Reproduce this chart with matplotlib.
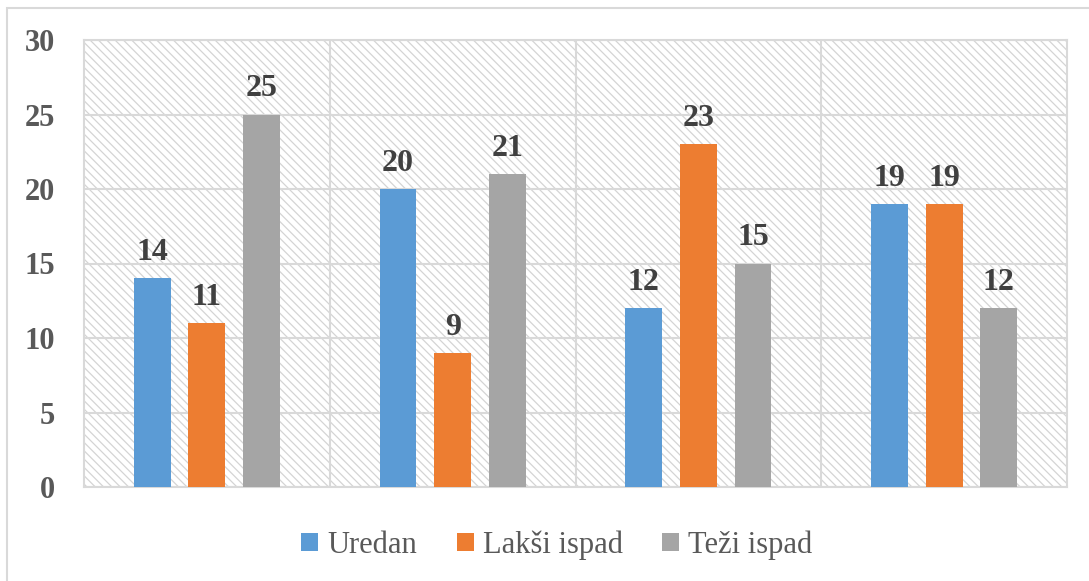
import numpy as np
import matplotlib.pyplot as plt
from matplotlib.patches import Rectangle

# data
categories = ["", "", "", ""]
series_names = ["Uredan", "Lakši ispad", "Teži ispad"]
uredan = [14, 20, 12, 19]
laksi = [11, 9, 23, 19]
tezi = [25, 21, 15, 12]
y_ticks = [0, 5, 10, 15, 20, 25, 30]

colors = ["#5b9bd5", "#ed7d31", "#a5a5a5"]
grid_col = "#d9d9d9"


def main():
    plt.rcParams['font.family'] = ['Liberation Serif', 'DejaVu Serif']
    plt.rcParams['hatch.linewidth'] = 0.9
    plt.rcParams['hatch.color'] = "#d4d4d4"

    fig = plt.figure(figsize=(10.89, 5.81), dpi=100)
    # outer chart frame (only top and left edges fall inside the image)
    fig.patches.append(Rectangle((7 / 1089, -10 / 581), 1100 / 1089, 583 / 581,
                                 transform=fig.transFigure, facecolor="none",
                                 edgecolor=grid_col, linewidth=1.5))
    ax = fig.add_axes([84 / 1089, 94 / 581, 983 / 1089, 447 / 581])

    # hatched plot background
    ax.add_patch(Rectangle((0, 0), 1, 1, transform=ax.transAxes, facecolor="white",
                           edgecolor="#d4d4d4", hatch="\\\\\\\\", linewidth=0, zorder=0))

    x = np.arange(len(categories))
    width = 0.15
    step = 0.222
    all_series = [uredan, laksi, tezi]
    for i, (vals, name) in enumerate(zip(all_series, series_names)):
        bars = ax.bar(x + (i - 1) * step, vals, width, color=colors[i], label=name, zorder=3)
        ax.bar_label(bars, padding=8, fontsize=23, fontweight="bold", color="#404040")

    ax.set_xlim(-0.5, len(categories) - 0.5)
    ax.set_ylim(0, 30)
    ax.set_yticks(y_ticks)
    ax.set_xticks(x)
    ax.set_xticklabels(categories)
    ax.set_xticks(np.arange(len(categories) - 1) + 0.5, minor=True)
    ax.tick_params(axis="y", length=0, pad=21, labelsize=22, labelcolor="#595959")
    ax.tick_params(axis="x", which="both", length=0)
    for lab in ax.get_yticklabels():
        lab.set_fontweight("bold")

    ax.grid(axis="y", color=grid_col, linewidth=1.5, zorder=1)
    ax.grid(axis="x", which="minor", color=grid_col, linewidth=1.5, zorder=1)
    ax.set_axisbelow(True)
    for sp in ax.spines.values():
        sp.set_color(grid_col)
        sp.set_linewidth(1.5)

    leg = fig.legend(loc="center", bbox_to_anchor=(557 / 1089, 1 - 545 / 581), ncol=3,
                     frameon=False, fontsize=22, handlelength=0.55, handleheight=0.55,
                     handletextpad=0.3, columnspacing=1.3)
    for t in leg.get_texts():
        t.set_color("#595959")

    plt.savefig("out.png", dpi=100)


if __name__ == "__main__":
    main()
